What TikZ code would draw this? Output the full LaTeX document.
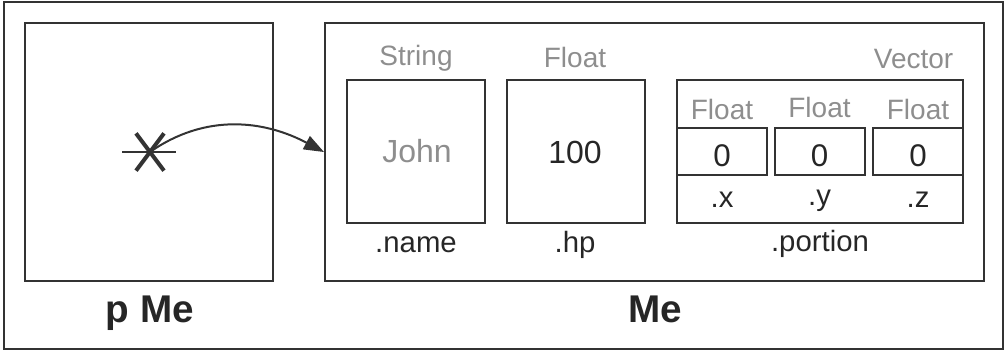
\documentclass[tikz,border=0pt]{standalone}
\usepackage{fontspec}
\setmainfont{Liberation Sans}
\usetikzlibrary{arrows.meta,positioning,shapes.misc}
\definecolor{linegray}{HTML}{333333}
\definecolor{typegray}{HTML}{8E8E8E}

\begin{document}
\begin{tikzpicture}[x=0.75pt,y=-0.75pt,
    box/.style={draw=linegray,line width=1.5pt,inner sep=0pt},
    typelbl/.style={anchor=base,text=typegray,font=\fontsize{21pt}{24pt}\selectfont},
    fieldlbl/.style={anchor=base,text=black!85,font=\fontsize{22pt}{25pt}\selectfont},
    vallbl/.style={anchor=base,font=\fontsize{24pt}{28pt}\selectfont},
    heading/.style={anchor=base,text=black!85,font=\fontsize{29pt}{32pt}\selectfont\bfseries},
    >={Triangle[length=15pt,width=11pt]}]
  \useasboundingbox (0,0) rectangle (1006,351);
  \draw[linegray,line width=1.5pt] (4,2) rectangle (1003,349);
  % pointer and object
  \node[box,minimum width=186pt,minimum height=193.5pt] (pme) at (149,152) {};
  \node[box,minimum width=494.25pt,minimum height=193.5pt] (me) at (654.5,152) {};
  \node[heading] (pmelbl) at (150,322) {p Me};
  \node[heading] (melbl) at (655,322) {Me};
  % the pointer mark
  \node[cross out,draw=linegray,line width=3pt,minimum width=18pt,minimum height=25pt,inner sep=0pt] (ptr) at (150,152) {};
  \draw[linegray,line width=1.5pt] ([xshift=-21pt]ptr.center) -- ([xshift=19.5pt]ptr.center);
  \draw[->,linegray,line width=1.5pt] (ptr.center) to[out=35,in=152] (me.west);
  % fields
  \node[box,minimum width=103.5pt,minimum height=107.25pt] (name) at (416,151.5) {};
  \node[box,minimum width=103.5pt,minimum height=107.25pt] (hp) at (576,151.5) {};
  \node[box,minimum width=214.5pt,minimum height=107.25pt] (portion) at (820,151.5) {};
  \node[typelbl] (namet) at (416,65) {String};
  \node[typelbl] (hpt) at (575,67) {Float};
  \node[typelbl,anchor=base east] (portiont) at (958,68) {Vector};
  \node[vallbl,text=typegray] (namev) at (417,162) {John};
  \node[vallbl,text=black!85] (hpv) at (575,163) {100};
  \node[fieldlbl] (namef) at (416,252) {.name};
  \node[fieldlbl] (hpf) at (575,252) {.hp};
  \node[fieldlbl] (portionf) at (820,251) {.portion};
  % vector components
  \foreach \c/\xc/\yb/\fy in {x/722/119/207,y/819.5/117/205,z/918/119/207} {
    \node[box,minimum width=67.5pt,minimum height=35.25pt] (\c) at (\xc,151.5) {};
    \node[typelbl] (\c t) at (\xc,\yb) {Float};
    \node[vallbl,text=black!85,font=\fontsize{23.5pt}{27pt}\selectfont] (\c v) at (\xc,166) {0};
    \node[fieldlbl] (\c f) at (\xc,\fy) {.\c};
  }
\end{tikzpicture}
\end{document}
